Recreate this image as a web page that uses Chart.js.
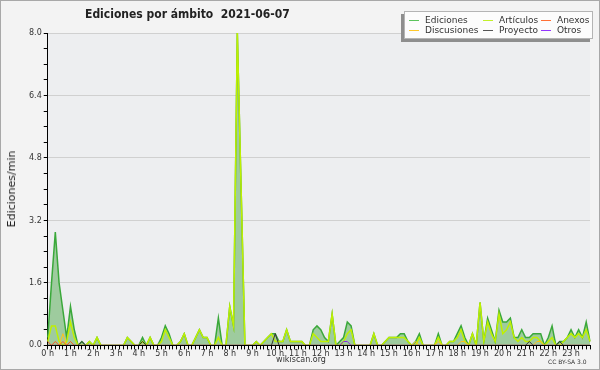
<!DOCTYPE html>
<html>
<head>
<meta charset="utf-8">
<script src="https://cdn.jsdelivr.net/npm/chart.js@4/dist/chart.umd.min.js"></script>
<style>
  body { margin: 0; }
  #wrap { position: relative; width: 600px; height: 370px; background: #f3f3f3; box-sizing: border-box; border: 1px solid #a8a8a8; overflow: hidden; font-family: "DejaVu Sans", sans-serif; color: #222; }
  #c { position: absolute; left: -1px; top: -1px; }
  .txt { position: absolute; white-space: pre; }
  #title { left: 84px; top: 5px; font: bold 12px "DejaVu Sans Condensed", "DejaVu Sans", sans-serif; font-stretch: condensed; line-height: 16px; }
  #ytitle { left: 11px; top: 188px; font-size: 11px; line-height: 12px; transform: translate(-50%, -50%) rotate(-90deg); }
  #site { left: 300px; top: 354px; font-size: 8px; line-height: 10px; transform: translateX(-50%); color: #333; }
  #lic { left: 547px; top: 357px; font-size: 6px; line-height: 8px; color: #333; }
  #legend { position: absolute; left: 403px; top: 10px; width: 187px; height: 26px; background: #fcfcfc; border: 1px solid #b4b4b4; box-shadow: -3px 3px 0 #8e8e8e; }
  .item { position: absolute; font: 9px "DejaVu Sans", sans-serif; line-height: 10px; color: #333; white-space: pre; }
  .mark { display: inline-block; width: 10px; height: 1px; vertical-align: middle; margin-right: 6px; }
</style>
</head>
<body>
<div id="wrap">
  <canvas id="c" width="600" height="370"></canvas>
  <div class="txt" id="title">Ediciones por ámbito  2021-06-07</div>
  <div class="txt" id="ytitle">Ediciones/min</div>
  <div class="txt" id="site">wikiscan.org</div>
  <div class="txt" id="lic">CC BY-SA 3.0</div>
  <div id="legend"></div>
</div>
<script>
// hour tick labels, one data slot every 10 minutes
const hourLabels = ['0 h','1 h','2 h','3 h','4 h','5 h','6 h','7 h','8 h','9 h','10 h','11 h',
  '12 h','13 h','14 h','15 h','16 h','17 h','18 h','19 h','20 h','21 h','22 h','23 h']
const slotsPerHour = 6

// edits per minute, 10 minute slots (one row = one hour)
const ediciones = [
  0.2, 1.6, 2.9, 1.6, 0.9, 0.2,
  1.0, 0.4, 0, 0.1, 0, 0.1,
  0, 0.2, 0, 0, 0, 0,
  0, 0, 0, 0.2, 0.1, 0,
  0, 0.2, 0, 0.2, 0, 0,
  0.2, 0.5, 0.3, 0, 0, 0.1,
  0.3, 0, 0, 0.2, 0.4, 0.2,
  0.2, 0, 0, 0.7, 0, 0,
  1.0, 0.5, 8.0, 4.0, 0, 0,
  0, 0.1, 0, 0.1, 0.2, 0.3,
  0.3, 0.1, 0.1, 0.4, 0.1, 0.1,
  0.1, 0.1, 0, 0, 0.4, 0.5,
  0.4, 0.2, 0.1, 0.8, 0, 0.1,
  0.2, 0.6, 0.5, 0, 0, 0,
  0, 0, 0.3, 0, 0, 0.1,
  0.2, 0.2, 0.2, 0.3, 0.3, 0.1,
  0, 0.1, 0.3, 0, 0, 0,
  0, 0.3, 0, 0, 0.1, 0.1,
  0.3, 0.5, 0.2, 0, 0.3, 0,
  1.1, 0.1, 0.7, 0.4, 0.1, 0.9,
  0.6, 0.6, 0.7, 0.2, 0.2, 0.4,
  0.2, 0.2, 0.3, 0.3, 0.3, 0,
  0.2, 0.5, 0, 0.1, 0.1, 0.2,
  0.4, 0.2, 0.4, 0.2, 0.6, 0.1
]
const articulos = [
  0.1, 0.5, 0.5, 0.1, 0, 0.1,
  0.6, 0.2, 0, 0, 0, 0.1,
  0, 0.2, 0, 0, 0, 0,
  0, 0, 0, 0.2, 0.1, 0,
  0, 0.1, 0, 0.2, 0, 0,
  0.1, 0.4, 0.2, 0, 0, 0.1,
  0.3, 0, 0, 0.2, 0.4, 0.2,
  0.2, 0, 0, 0.2, 0, 0,
  1.0, 0.5, 8.0, 4.0, 0, 0,
  0, 0.1, 0, 0.1, 0.2, 0.3,
  0.1, 0.1, 0.1, 0.4, 0.1, 0.1,
  0.1, 0.1, 0, 0, 0.3, 0.2,
  0.1, 0.1, 0.1, 0.8, 0, 0,
  0.1, 0.3, 0.4, 0, 0, 0,
  0, 0, 0.3, 0, 0, 0.1,
  0.2, 0.2, 0.2, 0.2, 0.2, 0.1,
  0, 0, 0.2, 0, 0, 0,
  0, 0.2, 0, 0, 0.1, 0.1,
  0.2, 0.4, 0.1, 0, 0.3, 0,
  1.1, 0.1, 0.6, 0.3, 0.1, 0.8,
  0.3, 0.4, 0.6, 0.2, 0.1, 0.2,
  0.1, 0.1, 0.2, 0.2, 0.1, 0,
  0.1, 0.2, 0, 0, 0.1, 0.2,
  0.3, 0.2, 0.3, 0.2, 0.4, 0.1
]
// the small namespaces: [slot index, value], every other slot is 0
const anexosPts = [[0, 0.1], [2, 0.1], [4, 0.1], [6, 0.1]]
const discusionesPts = [[4, 0.3], [97, 0.1], [103, 0.1], [109, 0.1], [110, 0.1], [129, 0.1], [130, 0.1]]
const proyectoPts = [[9, 0.1], [25, 0.1], [60, 0.3], [127, 0.1], [135, 0.1]]
const otrosPts = [[78, 0.1], [79, 0.1]]

const seriesNames = ['Ediciones', 'Artículos', 'Anexos', 'Discusiones', 'Proyecto', 'Otros']
const legendColors = ['#5cc45c', '#c2f02a', '#ff7035', '#ffc82a', '#555555', '#9436ff']

const nSlots = hourLabels.length * slotsPerHour
const slotLabels = []
for (let i = 0; i < nSlots; i++) slotLabels.push(i % slotsPerHour === 0 ? hourLabels[i / slotsPerHour] : '')

const fromPoints = (pts) => {
  const arr = new Array(nSlots).fill(0)
  pts.forEach(p => { arr[p[0]] = p[1] })
  return arr
}

// legend, 3 columns x 2 rows
const legendPos = [[4, 3], [78, 3], [136, 3], [4, 13], [78, 13], [136, 13]]
const legend = document.getElementById('legend')
seriesNames.forEach((name, k) => {
  const d = document.createElement('div')
  d.className = 'item'
  d.style.left = legendPos[k][0] + 'px'
  d.style.top = legendPos[k][1] + 'px'
  d.innerHTML = '<span class="mark" style="background:' + legendColors[k] + '"></span>' + name
  legend.appendChild(d)
})

const plotBg = {
  id: 'plotBg',
  beforeDraw(chart) {
    const { ctx, chartArea: a } = chart
    ctx.save()
    ctx.fillStyle = '#edeef0'
    ctx.fillRect(a.left, a.top, a.right - a.left, a.bottom - a.top)
    ctx.restore()
  },
  afterDatasetsDraw(chart) {
    // redraw the x axis line over the zero values
    const { ctx, chartArea: a } = chart
    const y0 = chart.scales.y.getPixelForValue(0)
    ctx.save()
    ctx.strokeStyle = '#000'
    ctx.lineWidth = 1
    ctx.beginPath()
    ctx.moveTo(a.left - 0.5, Math.round(y0) + 0.5)
    ctx.lineTo(a.right, Math.round(y0) + 0.5)
    ctx.stroke()
    ctx.restore()
  }
}

const line = (label, data, color, width, ord, extra) => Object.assign({
  label: label, data: data, borderColor: color, borderWidth: width,
  pointRadius: 0, tension: 0, fill: false, order: ord
}, extra || {})

const isMajor = (v) => Math.abs(v / 1.6 - Math.round(v / 1.6)) < 1e-6

new Chart(document.getElementById('c'), {
  type: 'line',
  data: {
    labels: slotLabels,
    datasets: [
      line('Otros', fromPoints(otrosPts), '#8a2be2', 1, 1),
      line('Proyecto', fromPoints(proyectoPts), '#333333', 1, 2),
      line('Anexos', fromPoints(anexosPts), '#ff5a1e', 1, 3),
      line('Discusiones', fromPoints(discusionesPts), '#ffc21a', 1, 4),
      line('Artículos', articulos, '#bff000', 1.5, 5),
      line('Ediciones', ediciones, '#3aa83a', 1.5, 6, { fill: 'origin', backgroundColor: '#9ecb9e' })
    ]
  },
  options: {
    responsive: false,
    animation: false,
    layout: { padding: { left: 27, right: 10, top: 33, bottom: 11 } },
    plugins: { legend: { display: false }, tooltip: { enabled: false } },
    scales: {
      x: {
        grid: { drawOnChartArea: false, color: '#000', tickLength: 4 },
        border: { color: '#000' },
        ticks: {
          autoSkip: false, maxRotation: 0, minRotation: 0, padding: 0,
          color: '#333', font: { family: 'DejaVu Sans', size: 8 }
        }
      },
      y: {
        min: 0, max: 8,
        grid: {
          color: (c) => (c.tick && isMajor(c.tick.value) && c.tick.value > 0) ? '#d0d0d0' : 'rgba(0,0,0,0)',
          tickColor: '#000', tickLength: 4
        },
        border: { color: '#000' },
        ticks: {
          stepSize: 0.4, padding: 2, color: '#333',
          font: { family: 'DejaVu Sans', size: 8 },
          callback: (v) => isMajor(v) ? v.toFixed(1) : ''
        }
      }
    }
  },
  plugins: [plotBg]
})
</script>
</body>
</html>
